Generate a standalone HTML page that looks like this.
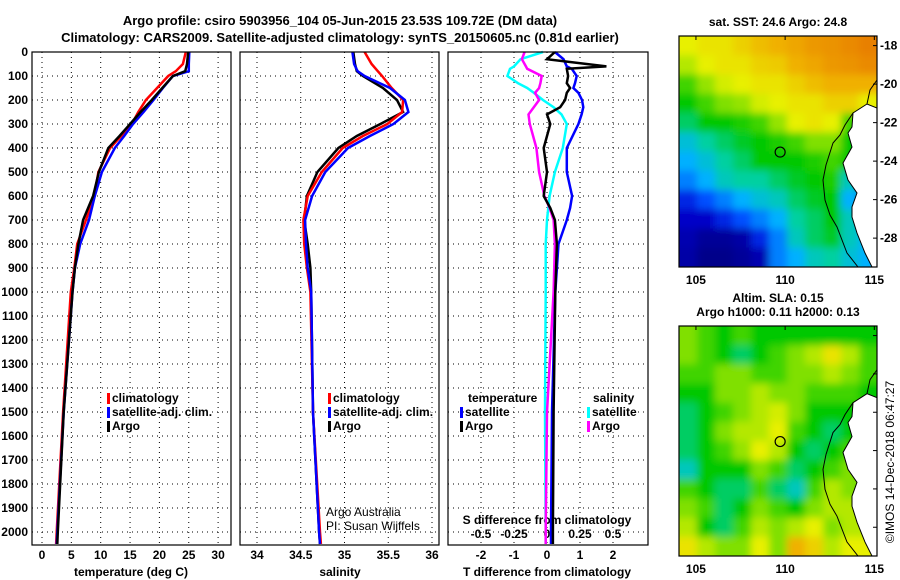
<!DOCTYPE html>
<html><head><meta charset="utf-8"><style>
html,body{margin:0;padding:0;background:#fff;}
svg{display:block;font-family:"Liberation Sans",sans-serif;}
.b{font-weight:bold;font-size:12px;}
</style></head><body>
<svg id="c" width="900" height="580" viewBox="0 0 900 580">
<defs>
<filter id="bl" x="-10%" y="-10%" width="120%" height="120%"><feGaussianBlur stdDeviation="4"/></filter>
<clipPath id="m1c"><rect x="679" y="36" width="198" height="231"/></clipPath>
<clipPath id="m2c"><rect x="679" y="326" width="198" height="230"/></clipPath>
</defs>
<text x="340" y="25" text-anchor="middle" class="b" style="font-size:13px">Argo profile: csiro 5903956_104 05-Jun-2015 23.53S 109.72E (DM data)</text>
<text x="340" y="42" text-anchor="middle" class="b" style="font-size:13px">Climatology: CARS2009. Satellite-adjusted climatology: synTS_20150605.nc (0.81d earlier)</text>
<g id="g"></g>
</svg>
<script>
const depths=[0,50,80,100,150,200,250,300,350,400,500,600,700,800,900,1000,1500,2000,2050];
const tempArgo=[24.9,24.7,24.4,22.3,20.5,18.7,16.8,15.0,13.2,11.3,9.7,8.7,7.0,6.2,5.6,5.2,3.7,2.7,2.6];
const tempClim=[24.5,24.0,22.8,21.5,19.6,17.7,16.4,15.3,13.5,11.6,9.6,8.9,7.5,6.0,5.5,4.9,3.6,2.5,2.4];
const tempSat=[25.1,25.0,25.0,22.3,20.6,19.0,17.3,15.5,14.0,12.4,10.2,9.0,8.0,6.5,5.6,5.2,3.7,2.6,2.5];
const salArgo=[35.10,35.12,35.14,35.21,35.44,35.60,35.67,35.41,35.14,34.93,34.69,34.57,34.54,34.58,34.61,34.62,34.64,34.71,34.72];
const salClim=[35.23,35.31,35.38,35.43,35.54,35.67,35.66,35.49,35.21,34.98,34.74,34.58,34.53,34.54,34.57,34.61,34.64,34.72,34.73];
const salSat=[35.09,35.11,35.15,35.23,35.52,35.69,35.73,35.56,35.29,35.04,34.78,34.63,34.55,34.56,34.58,34.62,34.64,34.71,34.72];
const dDepths=[0,30,60,70,100,130,150,170,200,230,260,300,400,500,600,650,700,800,1000,1500,2000,2050];
const dTArgo=[0.24,0.0,1.8,0.6,0.64,0.6,0.7,0.6,0.55,0.4,0.0,0.1,-0.1,0.0,-0.1,0.1,0.24,0.3,0.25,0.2,0.18,0.18];
const dTSat=[0.24,0.5,0.6,0.75,0.9,0.85,0.8,0.95,1.06,1.1,1.05,0.95,0.6,0.6,0.76,0.7,0.6,0.35,0.25,0.15,0.12,0.12];
const dSSat=[-0.03,-0.2,-0.25,-0.28,-0.3,-0.22,-0.15,-0.1,-0.03,0.05,0.11,0.15,0.12,0.06,0.02,0.01,0.0,-0.01,-0.01,-0.015,-0.01,-0.01];
const dSArgo=[-0.17,-0.19,-0.16,-0.15,-0.04,-0.05,-0.06,-0.09,-0.06,-0.1,-0.14,-0.13,-0.08,-0.06,-0.02,0.02,0.05,0.06,0.05,0.0,-0.01,-0.01];
const depthTicks=[0,100,200,300,400,500,600,700,800,900,1000,1100,1200,1300,1400,1500,1600,1700,1800,1900,2000];
const tempTicks=[0,5,10,15,20,25,30];
const salTicks=[34,34.5,35,35.5,36];
const dTTicks=[-2,-1,0,1,2];
const dSTicks=[-0.5,-0.25,0,0.25,0.5];
const latTicks=[-18,-20,-22,-24,-26,-28];
const lonTicks=[105,110,115];
const argoLon=109.72, argoLat=-23.53;
const sstGrid=[
[0.70,0.72,0.72,0.75,0.78,0.80,0.82,0.85,0.86,0.88,0.90],
[0.65,0.70,0.72,0.72,0.75,0.76,0.80,0.82,0.85,0.86,0.88],
[0.55,0.62,0.68,0.70,0.72,0.72,0.75,0.78,0.80,0.80,0.80],
[0.50,0.55,0.60,0.62,0.68,0.70,0.72,0.72,0.75,0.75,0.70],
[0.45,0.50,0.50,0.52,0.55,0.62,0.70,0.72,0.70,0.55,0.50],
[0.38,0.42,0.45,0.48,0.50,0.52,0.55,0.60,0.60,0.50,0.45],
[0.35,0.38,0.42,0.45,0.50,0.50,0.50,0.52,0.55,0.50,0.45],
[0.30,0.35,0.40,0.42,0.42,0.45,0.48,0.50,0.52,0.40,0.10],
[0.20,0.25,0.30,0.35,0.38,0.40,0.45,0.48,0.50,0.35,0.10],
[0.15,0.15,0.20,0.25,0.30,0.35,0.42,0.45,0.50,0.40,0.30],
[0.10,0.05,0.05,0.08,0.20,0.30,0.40,0.45,0.48,0.40,0.35],
[0.08,0.02,0.02,0.05,0.10,0.30,0.35,0.40,0.42,0.38,0.35]];
const slaGrid=[
[0.60,0.55,0.50,0.55,0.50,0.50,0.50,0.50,0.50,0.50,0.50],
[0.60,0.55,0.50,0.45,0.50,0.55,0.60,0.65,0.72,0.65,0.55],
[0.55,0.55,0.60,0.60,0.55,0.55,0.60,0.60,0.65,0.60,0.55],
[0.50,0.50,0.60,0.60,0.65,0.60,0.60,0.55,0.55,0.55,0.50],
[0.45,0.50,0.55,0.60,0.65,0.68,0.60,0.50,0.50,0.50,0.50],
[0.45,0.50,0.60,0.65,0.65,0.70,0.55,0.50,0.45,0.50,0.50],
[0.45,0.50,0.55,0.62,0.70,0.65,0.50,0.45,0.50,0.55,0.50],
[0.40,0.50,0.50,0.50,0.60,0.55,0.45,0.50,0.55,0.60,0.55],
[0.55,0.50,0.45,0.45,0.55,0.45,0.40,0.55,0.65,0.60,0.55],
[0.60,0.55,0.45,0.50,0.60,0.55,0.50,0.60,0.65,0.65,0.60],
[0.65,0.50,0.45,0.55,0.65,0.60,0.65,0.70,0.60,0.65,0.65],
[0.72,0.65,0.60,0.60,0.70,0.60,0.80,0.75,0.65,0.70,0.70]];

const NS='http://www.w3.org/2000/svg';
const G=document.getElementById('g');
function mk(tag,attrs,parent){const e=document.createElementNS(NS,tag);for(const k in attrs)e.setAttribute(k,attrs[k]);(parent||G).appendChild(e);return e;}
const TOP=52,BOT=545;
const yD=d=>TOP+d*0.2400;
const panels=[
 {x0:32,x1:231,sx:v=>42+v*5.87},
 {x0:240,x1:439,sx:v=>257+(v-34)*87.5},
 {x0:448,x1:648,sx:v=>547+v*33}
];
const sxS=v=>547+v*132;

function grid(p,ticks,name){
  ticks.forEach(t=>{const l=mk('line',{x1:p.sx(t),x2:p.sx(t),y1:TOP,y2:BOT,stroke:'#000','stroke-dasharray':'1,4','stroke-width':1});
    });
  depthTicks.forEach(d=>{const l=mk('line',{x1:p.x0,x2:p.x1,y1:yD(d),y2:yD(d),stroke:'#000','stroke-dasharray':'1,4','stroke-width':1});
    });
}
function frame(p,name){const r=mk('rect',{x:p.x0,y:TOP,width:p.x1-p.x0,height:BOT-TOP,fill:'none',stroke:'#000','stroke-width':1.2});
  }
function txt(x,y,s,anchor,name,extra){const t=mk('text',Object.assign({x:x,y:y,'text-anchor':anchor||'start',class:'b'},extra||{}));t.textContent=s;
  return t;}
function series(ds,vals,sx,color,name,w){
  const pts=ds.map((d,i)=>sx(vals[i]).toFixed(1)+','+yD(d).toFixed(1)).join(' ');
  const l=mk('polyline',{points:pts,fill:'none',stroke:color,'stroke-width':w||2.5,'stroke-linejoin':'miter'});
  
}
grid(panels[0],tempTicks,'temperature');
grid(panels[1],salTicks,'salinity');
grid(panels[2],dTTicks,'t-difference');
depthTicks.forEach(d=>txt(28,yD(d)+4,String(d),'end','depth-tick-label'));
tempTicks.forEach(t=>txt(panels[0].sx(t),559,String(t),'middle','temperature-tick-label'));
salTicks.forEach(t=>txt(panels[1].sx(t),559,String(t),'middle','salinity-tick-label'));
dTTicks.forEach(t=>txt(panels[2].sx(t),559,String(t),'middle','t-difference-tick-label'));
dSTicks.forEach(t=>txt(sxS(t),538,String(t),'middle','s-difference-tick-label'));
txt(131,576,'temperature (deg C)','middle','temperature-axis-title');
txt(340,576,'salinity','middle','salinity-axis-title');
txt(547,576,'T difference from climatology','middle','t-difference-axis-title');
txt(547,524,'S difference from climatology','middle','s-difference-axis-title');
series(depths,tempClim,panels[0].sx,'#ff0000','temp-climatology-line');
series(depths,tempSat,panels[0].sx,'#0000ff','temp-satellite-line');
series(depths,tempArgo,panels[0].sx,'#000000','temp-argo-line');
series(depths,salArgo,panels[1].sx,'#000000','sal-argo-line');
series(depths,salClim,panels[1].sx,'#ff0000','sal-climatology-line');
series(depths,salSat,panels[1].sx,'#0000ff','sal-satellite-line');
series(dDepths,dSSat,sxS,'#00ffff','s-diff-satellite-line');
series(dDepths,dSArgo,sxS,'#ff00ff','s-diff-argo-line');
series(dDepths,dTSat,panels[2].sx,'#0000ff','t-diff-satellite-line');
series(dDepths,dTArgo,panels[2].sx,'#000000','t-diff-argo-line');
frame(panels[0],'temperature-plot-frame');frame(panels[1],'salinity-plot-frame');frame(panels[2],'difference-plot-frame');
function leg(x,y,color,label,name){const r=mk('rect',{x:x,y:y-9,width:3,height:11,fill:color});
  
  const bg=txt(x+5,y,label,'start',name);bg.setAttribute('style','paint-order:stroke;stroke:#fff;stroke-width:3px');}
leg(107,402,'#ff0000','climatology','legend-climatology');
leg(107,416,'#0000ff','satellite-adj. clim.','legend-satellite');
leg(107,430,'#000000','Argo','legend-argo');
leg(328,402,'#ff0000','climatology','legend-sal-climatology');
leg(328,416,'#0000ff','satellite-adj. clim.','legend-sal-satellite');
leg(328,430,'#000000','Argo','legend-sal-argo');
txt(468,402,'temperature','start','legend-temperature-header').setAttribute('style','paint-order:stroke;stroke:#fff;stroke-width:3px');
leg(460,416,'#0000ff','satellite','legend-t-satellite');
leg(460,430,'#000000','Argo','legend-t-argo');
txt(593,402,'salinity','start','legend-salinity-header').setAttribute('style','paint-order:stroke;stroke:#fff;stroke-width:3px');
leg(587,416,'#00ffff','satellite','legend-s-satellite');
leg(587,430,'#ff00ff','Argo','legend-s-argo');
const a1=txt(326,516,'Argo Australia','start','credit-argo-australia');a1.setAttribute('class','');a1.setAttribute('font-size','12');
const a2=txt(326,530,'PI: Susan Wijffels','start','credit-pi');a2.setAttribute('class','');a2.setAttribute('font-size','12');

const stops=[[0,[0,0,128]],[0.15,[0,0,200]],[0.25,[0,80,255]],[0.35,[0,176,255]],[0.42,[0,208,160]],[0.5,[0,200,0]],[0.6,[128,224,0]],[0.7,[232,240,0]],[0.8,[240,176,0]],[0.9,[232,128,0]],[1,[220,90,0]]];
function cmap(v){for(let i=1;i<stops.length;i++){if(v<=stops[i][0]){const a=stops[i-1],b=stops[i],f=(v-a[0])/(b[0]-a[0]);
  return 'rgb('+a[1].map((c,k)=>Math.round(c+(b[1][k]-c)*f)).join(',')+')';}}return 'rgb(220,90,0)';}
function drawMap(y0,h,grid,clip,name,showLat){
  const x0=679,w=198,lonL=104.05,lonR=115.15,latT=-17.5,latB=-29.5;
  const mx=lon=>x0+(lon-lonL)/(lonR-lonL)*w, my=lat=>y0+(latT-lat)/(latT-latB)*h;
  const g=mk('g',{'clip-path':'url(#'+clip+')'});
  const gb=mk('g',{filter:'url(#bl)'},g);
  const cw=w/grid[0].length,ch=h/grid.length;
  grid.forEach((row,r)=>row.forEach((v,c)=>{const e=mk('rect',{x:x0+c*cw-(c==0?12:0),y:y0+r*ch-(r==0?12:0),width:cw+1+(c==0||c==row.length-1?12:0),height:ch+1+(r==0||r==grid.length-1?12:0),fill:cmap(v)},gb);
    }));
  const S=h/231;
  const land=[[877,108],[867,104],[853,113],[852,127],[848,133],[852,147],[843,163],[848,180],[857,193],[852,207],[852,217],[857,233],[865,253],[872,267],[877,267]];
  const lp=mk('polygon',{points:land.map(p=>p[0]+','+(y0+(p[1]-36)*S)).join(' '),fill:'#fff',stroke:'#000','stroke-width':1},g);
  
  const coast2=[[877,80],[870,90],[867,104]];
  const c2=mk('polyline',{points:coast2.map(p=>p[0]+','+(y0+(p[1]-36)*S)).join(' '),fill:'none',stroke:'#000','stroke-width':1},g);
  
  const iso=[[853,113],[845,125],[840,135],[833,143],[826,165],[823,180],[825,200],[830,215],[837,227],[847,253],[858,267]];
  const il=mk('polyline',{points:iso.map(p=>p[0]+','+(y0+(p[1]-36)*S)).join(' '),fill:'none',stroke:'#000','stroke-width':1},g);
  
  const ci=mk('circle',{cx:mx(argoLon),cy:my(argoLat),r:5,fill:'none',stroke:'#000','stroke-width':1.2});
  
  const fr=mk('rect',{x:x0,y:y0,width:w,height:h,fill:'none',stroke:'#000','stroke-width':1.2});
  
  latTicks.forEach(l=>{if(showLat)txt(880,my(l)+4,String(l),'start',name+'-lat-label');
    const t=mk('line',{x1:x0+w-4,x2:x0+w,y1:my(l),y2:my(l),stroke:'#000'});});
  lonTicks.forEach(l=>{txt(mx(l),y0+h+17,String(l),'middle',name+'-lon-label');
    const t=mk('line',{x1:mx(l),x2:mx(l),y1:y0,y2:y0+4,stroke:'#000'});});
}
drawMap(36,231,sstGrid,'m1c','sst-map',true);
drawMap(326,230,slaGrid,'m2c','sla-map',false);
txt(778,26,'sat. SST: 24.6 Argo: 24.8','middle','sst-map-title');
txt(778,302,'Altim. SLA: 0.15','middle','sla-map-title-1');
txt(778,316,'Argo h1000: 0.11 h2000: 0.13','middle','sla-map-title-2');
const cr=txt(0,0,'©IMOS 14-Dec-2018 06:47:27','middle','imos-timestamp');
cr.setAttribute('class','');cr.setAttribute('font-size','12');cr.setAttribute('transform','translate(894,462) rotate(-90)');
</script>
</body></html>
